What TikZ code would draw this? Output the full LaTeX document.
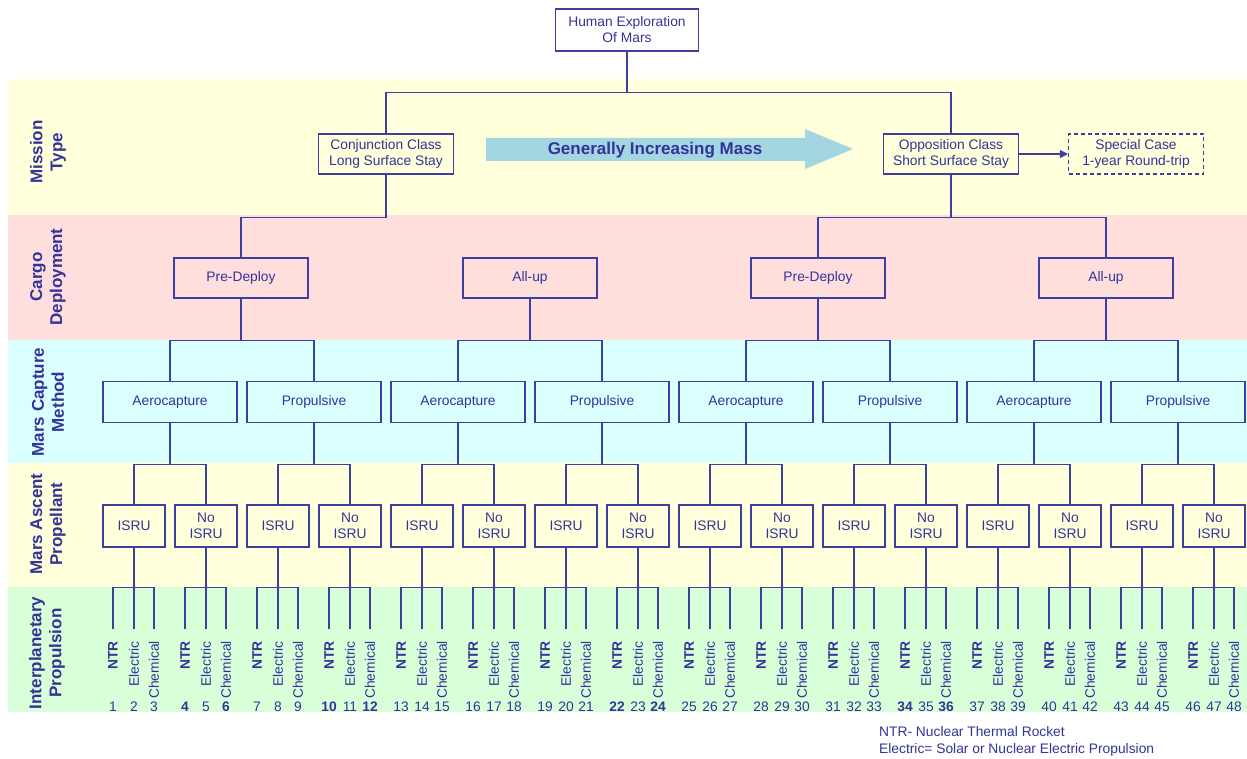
\documentclass[tikz,border=0pt]{standalone}
\usepackage{fontspec}
\setmainfont{Liberation Sans}
\usetikzlibrary{arrows.meta,calc}
\definecolor{ink}{HTML}{333399}
\definecolor{wirecol}{HTML}{3F3F9F}
\definecolor{bandY}{HTML}{FFFFDC}
\definecolor{bandP}{HTML}{FFDEDE}
\definecolor{bandC}{HTML}{D9FFFF}
\definecolor{bandG}{HTML}{D9FFD9}
\definecolor{arrowfill}{HTML}{A3D6E0}
\begin{document}
\begin{tikzpicture}[x=1pt,y=-1pt,
  link/.style={draw=wirecol, line width=1.1pt},
  box/.style={draw=wirecol, line width=1.1pt, text=ink, align=center, inner sep=0pt,
    font=\fontsize{13.8}{16}\selectfont},
  topbox/.style={box, minimum width=143pt, minimum height=42pt},
  missionbox/.style={box, minimum width=135pt, minimum height=40pt},
  cargobox/.style={box, minimum width=134pt, minimum height=40pt},
  capbox/.style={box, minimum width=134pt, minimum height=41pt},
  ascbox/.style={box, minimum width=62pt, minimum height=42pt},
  bandlabel/.style={rotate=90, align=center, text=ink, inner sep=0pt,
    font=\fontsize{17}{20}\selectfont\bfseries},
  proplabel/.style={rotate=90, anchor=east, text=ink, inner sep=0pt,
    font=\fontsize{13.8}{16}\selectfont},
  numlabel/.style={text=ink, inner sep=0pt, font=\fontsize{13.8}{16}\selectfont},
  legendtext/.style={text=ink, inner sep=0pt, align=left, anchor=west,
    font=\fontsize{13.8}{17}\selectfont}
]
\useasboundingbox (0,0) rectangle (1247,759);
\fill[white] (0,0) rectangle (1247,759);
% bands
\fill[bandY] (8,79) rectangle (1247,215);
\fill[bandP] (8,215) rectangle (1247,340);
\fill[bandC] (8,340) rectangle (1247,463);
\fill[bandY] (8,463) rectangle (1247,587);
\fill[bandG] (8,587) rectangle (1247,712);
% band labels
\node[bandlabel] (lblA) at (48,152) {Mission\\Type};
\node[bandlabel] (lblB) at (48,277) {Cargo\\Deployment};
\node[bandlabel] (lblC) at (48,402) {Mars Capture\\Method};
\node[bandlabel] (lblD) at (48,524) {Mars Ascent\\Propellant};
\node[bandlabel] (lblE) at (47,653) {Interplanetary\\Propulsion};
% top
\node[topbox] (top) at (627,30) {Human Exploration\\Of Mars};
% mission
\node[missionbox] (conj) at (386,154) {Conjunction Class\\Long Surface Stay};
\node[missionbox] (opp) at (951,154) {Opposition Class\\Short Surface Stay};
\node[missionbox, dashed, dash pattern=on 4pt off 3pt] (special) at (1136,154) {Special Case\\1-year Round-trip};
\draw[link] (top.south) -- ++(0,41) -| (conj.north);
\draw[link] (top.south) -- ++(0,41) -| (opp.north);
\draw[link, -{Triangle[length=8pt,width=8pt]}] (opp.east) -- (special.west);
% mass arrow
\fill[arrowfill] (486,138) -- (805,138) -- (805,129) -- (853,149) -- (805,169) -- (805,161) -- (486,161) -- cycle;
\node[text=ink, inner sep=0pt, font=\fontsize{17}{20}\selectfont\bfseries] (mass) at (655,150) {Generally Increasing Mass};
% cargo
\node[cargobox] (cargo0) at (241,278) {Pre-Deploy};
\node[cargobox] (cargo1) at (530,278) {All-up};
\node[cargobox] (cargo2) at (818,278) {Pre-Deploy};
\node[cargobox] (cargo3) at (1106,278) {All-up};
\draw[link] (conj.south) -- ++(0,43) -| (cargo0.north);
\draw[link] (opp.south) -- ++(0,43) -| (cargo2.north);
\draw[link] (opp.south) -- ++(0,43) -| (cargo3.north);
% capture
\foreach \k in {0,...,7}{
  \pgfmathsetmacro\cx{170+144*\k}
  \ifodd\k\relax\def\txt{Propulsive}\else\def\txt{Aerocapture}\fi
  \node[capbox] (cap\k) at (\cx,402) {\txt};
}
\foreach \i in {0,...,3}{
  \pgfmathtruncatemacro\ka{2*\i}
  \pgfmathtruncatemacro\kb{2*\i+1}
  \draw[link] (cargo\i.south) -- ++(0,42) -| (cap\ka.north);
  \draw[link] (cargo\i.south) -- ++(0,42) -| (cap\kb.north);
}
% ascent
\foreach \k in {0,...,15}{
  \pgfmathsetmacro\cx{134+72*\k}
  \ifodd\k\relax\def\txt{No\\ISRU}\else\def\txt{ISRU}\fi
  \node[ascbox] (asc\k) at (\cx,526) {\txt};
}
\foreach \i in {0,...,7}{
  \pgfmathtruncatemacro\ka{2*\i}
  \pgfmathtruncatemacro\kb{2*\i+1}
  \draw[link] (cap\i.south) -- ++(0,41) -| (asc\ka.north);
  \draw[link] (cap\i.south) -- ++(0,41) -| (asc\kb.north);
}
% propulsion labels and legs
\foreach \k in {0,...,15}{
  \pgfmathsetmacro\cx{134+72*\k}
  \node[proplabel, font=\fontsize{13.8}{16}\selectfont\bfseries] (n\k) at (\cx-21,641) {NTR};
  \node[proplabel] (e\k) at (\cx,641) {Electric};
  \node[proplabel] (c\k) at (\cx+20,641) {Chemical};
  \draw[link] (asc\k.south) -- ++(0,40) -| ([yshift=12pt]n\k.east);
  \draw[link] (asc\k.south) -- ++(0,40) -| ([yshift=12pt]c\k.east);
  \draw[link] (asc\k.south) -- ([yshift=12pt]e\k.east);
  \foreach \j/\dx in {0/-21,1/0,2/20}{
    \pgfmathtruncatemacro\n{3*\k+\j+1}
    \pgfmathtruncatemacro\bb{(\n==4)||(\n==6)||(\n==10)||(\n==12)||(\n==22)||(\n==24)||(\n==34)||(\n==36)}
    \ifnum\bb=1\relax\def\fnt{\bfseries}\else\def\fnt{}\fi
    \node[numlabel] (num\n) at (\cx+\dx,707) {\fnt\n};
  }
}
% legend
\node[legendtext] (legend) at (879,741) {NTR- Nuclear Thermal Rocket\\Electric= Solar or Nuclear Electric Propulsion};
\end{tikzpicture}
\end{document}
